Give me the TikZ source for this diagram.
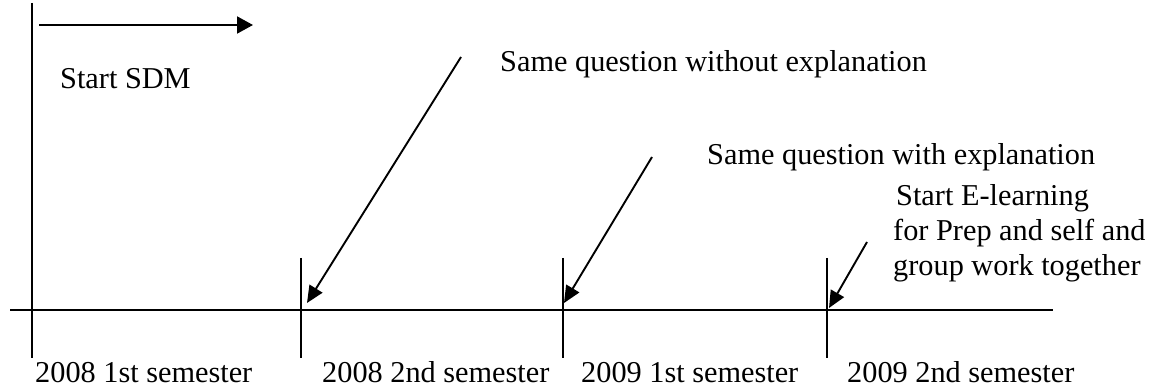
\documentclass[tikz,border=0pt]{standalone}
\usepackage{fontspec}
\setmainfont{Liberation Serif}
\usetikzlibrary{arrows.meta}
\begin{document}
\begin{tikzpicture}[x=1pt,y=-1pt,
  lbl/.style={anchor=base west,inner sep=0pt,font=\fontsize{30.3}{34}\selectfont},
  axis/.style={line width=2.4pt},
  tickline/.style={line width=1.8pt},
  pointer/.style={line width=1.9pt,-{Triangle[length=17pt,width=15pt]}},
  toparrow/.style={line width=2pt,-{Triangle[length=16pt,width=17pt]}}]
\useasboundingbox (0,0) rectangle (1151,387);
% axis and ticks
\coordinate (axL) at (10,310);
\coordinate (axR) at (1053,310);
\draw[axis] (axL) -- (axR);
\coordinate (v0t) at (32,3);   \coordinate (v0b) at (32,358);
\coordinate (v1t) at (301,258); \coordinate (v1b) at (301,358);
\coordinate (v2t) at (563,258); \coordinate (v2b) at (563,358);
\coordinate (v3t) at (827,258); \coordinate (v3b) at (827,358);
\draw[tickline] (v0t) -- (v0b);
\draw[tickline] (v1t) -- (v1b);
\draw[tickline] (v2t) -- (v2b);
\draw[tickline] (v3t) -- (v3b);
% top arrow
\coordinate (ts) at (39,25);
\coordinate (te) at (253,25);
\draw[toparrow] (ts) -- (te);
% texts
\node[lbl] (sdm) at (60,89) {Start SDM};
\node[lbl] (nox) at (500,72) {Same question without explanation};
\node[lbl] (wex) at (707,165) {Same question with explanation};
\node[lbl] (el1) at (896,206) {Start E-learning};
\node[lbl] (el2) at (893,241) {for Prep and self and};
\node[lbl] (el3) at (893,276) {group work together};
\node[lbl] (s1) at (35,382) {2008 1st semester};
\node[lbl] (s2) at (322,382) {2008 2nd semester};
\node[lbl] (s3) at (581,382) {2009 1st semester};
\node[lbl] (s4) at (847,382) {2009 2nd semester};
% pointers
\coordinate (a1s) at (461,57);  \coordinate (a1e) at (307,303);
\coordinate (a2s) at (652,157); \coordinate (a2e) at (564,303);
\coordinate (a3s) at (867,242); \coordinate (a3e) at (829,308);
\draw[pointer] (a1s) -- (a1e);
\draw[pointer] (a2s) -- (a2e);
\draw[pointer] (a3s) -- (a3e);
\end{tikzpicture}
\end{document}
